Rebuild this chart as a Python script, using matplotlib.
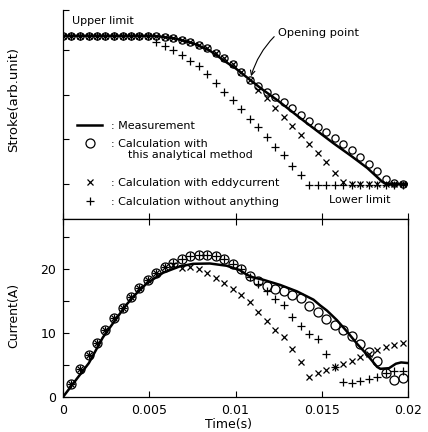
import matplotlib
matplotlib.use("Agg")
import matplotlib.pyplot as plt
from matplotlib.lines import Line2D
import numpy as np

plt.rcParams['font.family'] = ['DejaVu Sans']

# ---------------- data (time in ms) ----------------
t_calc = [0.00, 0.49, 0.99, 1.48, 1.97, 2.46, 2.96, 3.45, 3.94, 4.43,
          4.93, 5.42, 5.91, 6.40, 6.90, 7.39, 7.88, 8.37, 8.87, 9.36,
          9.85, 10.34, 10.84, 11.33, 11.82, 12.31, 12.81, 13.30, 13.79, 14.28,
          14.78, 15.27, 15.76, 16.25, 16.75, 17.24, 17.73, 18.22, 18.72, 19.21,
          19.70]

# Stroke (arb. unit)
stroke_meas_t = [0.0, 2.0, 4.0, 5.0, 5.5, 6.5, 7.55, 8.5, 9.49, 10.0, 10.84, 11.5,
                 12.5, 13.75, 14.7, 15.69, 16.7, 17.63, 18.5, 18.7, 20.0]
stroke_meas = [3.33, 3.33, 3.33, 3.33, 3.32, 3.27, 3.16, 3.0, 2.73, 2.6, 2.34, 2.14,
               1.86, 1.48, 1.2, 0.91, 0.63, 0.36, 0.05, 0.0, 0.0]
stroke_method = [3.33, 3.33, 3.33, 3.33, 3.33, 3.33, 3.33, 3.33, 3.33, 3.33,
                 3.33, 3.33, 3.31, 3.28, 3.24, 3.19, 3.13, 3.05, 2.94, 2.82,
                 2.69, 2.52, 2.33, 2.19, 2.07, 1.96, 1.83, 1.70, 1.55, 1.41,
                 1.29, 1.17, 1.03, 0.89, 0.76, 0.61, 0.44, 0.29, 0.12, 0.02,
                 0.0]
stroke_eddy = [3.33, 3.33, 3.33, 3.33, 3.33, 3.33, 3.33, 3.33, 3.33, 3.33,
               3.33, 3.33, 3.31, 3.28, 3.24, 3.19, 3.13, 3.05, 2.94, 2.82,
               2.69, 2.52, 2.33, 2.12, 1.93, 1.71, 1.51, 1.30, 1.09, 0.90,
               0.70, 0.49, 0.25, 0.05, 0.0, 0.0, 0.0, 0.0, 0.0, 0.0,
               0.0]
stroke_none = [3.33, 3.33, 3.33, 3.33, 3.33, 3.33, 3.33, 3.33, 3.33, 3.33,
               3.33, 3.18, 3.10, 3.01, 2.90, 2.76, 2.64, 2.46, 2.27, 2.07,
               1.88, 1.68, 1.46, 1.27, 1.05, 0.84, 0.64, 0.40, 0.20, -0.02,
               -0.02, -0.02, -0.02, -0.02, -0.02, -0.02, -0.02, -0.02, -0.02, -0.02,
               -0.02]

# Current (A)
cur_meas_t = [0.0, 0.86, 1.5, 2.31, 3.0, 3.67, 4.3, 4.84, 5.8, 6.77, 7.55, 8.52,
              9.49, 10.26, 10.65, 11.0, 11.62, 12.59, 13.56, 14.52, 14.91, 15.3,
              15.88, 16.47, 17.05, 17.63, 18.21, 18.4, 18.9, 19.3, 19.6, 20.0]
cur_meas = [0.0, 3.05, 5.3, 9.3, 11.9, 14.4, 16.3, 17.7, 19.4, 20.4, 20.8, 20.85,
            20.5, 19.8, 19.1, 18.7, 18.3, 17.5, 16.5, 15.2, 14.3, 13.5,
            12.0, 10.2, 8.3, 6.6, 4.7, 4.4, 4.5, 5.2, 5.4, 5.3]
cur_method = [None, 2.0, 4.3, 6.5, 8.4, 10.4, 12.4, 13.95, 15.6, 17.0,
              18.3, 19.4, 20.3, 21.0, 21.6, 22.0, 22.2, 22.2, 22.0, 21.6,
              20.85, 20.0, 18.85, 18.06, 17.4, 16.9, 16.5, 15.95, 15.4, 14.2,
              13.2, 12.2, 11.2, 10.4, 9.5, 8.2, 7.0, 5.7, 3.8, 2.7,
              3.0]
cur_eddy = [None, 2.0, 4.3, 6.5, 8.4, 10.4, 12.4, 13.95, 15.6, 17.0,
            18.3, 19.4, 20.3, 20.6, 20.2, 20.3, 20.0, 19.4, 18.6, 17.8,
            16.8, 15.9, 14.9, 13.2, 11.9, 10.5, 9.4, 7.5, 5.4, 3.2,
            3.7, 4.2, 4.7, 5.2, 5.7, 6.2, 6.75, 7.3, 7.8, 8.1,
            8.4]
cur_none = [None, 2.0, 4.3, 6.5, 8.4, 10.4, 12.4, 13.95, 15.6, 17.0,
            18.3, 19.4, 20.3, 21.0, 21.6, 22.0, 22.2, 22.2, 22.0, 21.6,
            20.85, 20.0, 18.7, 17.6, 16.5, 15.3, 14.4, 12.5, 11.1, 9.9,
            9.0, 6.7, 4.7, 2.4, 2.2, 2.5, 2.8, 3.2, 3.8, 4.0,
            4.1]

xticks = [0, 0.005, 0.01, 0.015, 0.02]
xticklabels = ['0', '0.005', '0.01', '0.015', '0.02']
cur_ticks = [0, 10, 20]
cur_ticklabels = ['0', '10', '20']
cur_minor = [5, 15, 25]

legend_labels_a = [': Measurement', ': Calculation with']
legend_cont = 'this analytical method'
legend_labels_b = [': Calculation with eddycurrent', ': Calculation without anything']


def sec(lst):
    return np.array(lst, dtype=float) / 1000.0


def arr(lst):
    return np.array([np.nan if v is None else v for v in lst], dtype=float)


W, H = 428, 432
fig = plt.figure(figsize=(W / 100, H / 100), dpi=100)
L, R = 63, 408
ax1 = fig.add_axes([L / W, 1 - 219 / H, (R - L) / W, (219 - 10) / H])
ax2 = fig.add_axes([L / W, 1 - 397 / H, (R - L) / W, (397 - 219) / H])

tc = sec(t_calc)
mw = 0.9
lw_line = 1.8
ms_o_top, ms_o_bot, ms_x, ms_p = 5.2, 6.5, 4.5, 6

# ---------------- top: stroke ----------------
ax1.plot(sec(stroke_meas_t), stroke_meas, color='black', lw=lw_line, zorder=3)
ax1.plot(tc, stroke_method, ls='none', marker='o', ms=ms_o_top, mfc='none', mec='black', mew=mw, zorder=4)
ax1.plot(tc, stroke_eddy, ls='none', marker='x', ms=ms_x, color='black', mew=mw, zorder=4)
ax1.plot(tc, stroke_none, ls='none', marker='+', ms=ms_p, color='black', mew=mw, zorder=4)

ax1.set_xlim(0, 0.02)
ax1.set_ylim(-0.79, 3.91)
ax1.spines['top'].set_visible(False)
ax1.spines['right'].set_visible(False)
ax1.set_xticks(xticks)
ax1.set_xticklabels([])
ax1.set_yticks([0, 1, 2, 3, 3.91])
ax1.set_yticklabels([])
ax1.tick_params(direction='in', length=4, width=0.8)
ax1.set_ylabel('Stroke(arb.unit)', fontsize=9.5)
ax1.yaxis.set_label_coords(-0.125, 0.57)

ax1.text(0.026, 0.947, 'Upper limit', transform=ax1.transAxes, fontsize=8,
         ha='left', va='center')
ax1.text(0.948, 0.091, 'Lower limit', transform=ax1.transAxes, fontsize=8,
         ha='right', va='center')
ax1.annotate('Opening point', xy=(tc[22], stroke_method[22]),
             xytext=(0.623, 0.89), textcoords='axes fraction', fontsize=8.2,
             ha='left', va='center',
             arrowprops=dict(arrowstyle='->', color='black', lw=0.8,
                             connectionstyle='arc3,rad=0.15', relpos=(0, 0.5),
                             shrinkA=1, shrinkB=3))

leg_kw = dict(loc='upper left', frameon=False, fontsize=8, borderaxespad=0,
              borderpad=0, handlelength=2.3, handletextpad=0.8, labelspacing=0.75)
handles_a = [Line2D([], [], color='black', lw=lw_line),
             Line2D([], [], ls='none', marker='o', ms=ms_o_bot, mfc='none', mec='black', mew=mw)]
handles_b = [Line2D([], [], ls='none', marker='x', ms=ms_x, color='black', mew=mw),
             Line2D([], [], ls='none', marker='+', ms=ms_p, color='black', mew=mw)]
leg_a = ax1.legend(handles_a, legend_labels_a, bbox_to_anchor=(0.04, 0.47), **leg_kw)
ax1.add_artist(leg_a)
ax1.legend(handles_b, legend_labels_b, bbox_to_anchor=(0.04, 0.195), **leg_kw)
ax1.text(0.188, 0.306, legend_cont, transform=ax1.transAxes, fontsize=8,
         ha='left', va='center')

# ---------------- bottom: current ----------------
ax2.plot(sec(cur_meas_t), cur_meas, color='black', lw=lw_line, zorder=3)
ax2.plot(tc, arr(cur_method), ls='none', marker='o', ms=ms_o_bot, mfc='none', mec='black', mew=mw, zorder=4)
ax2.plot(tc, arr(cur_eddy), ls='none', marker='x', ms=ms_x, color='black', mew=mw, zorder=4)
ax2.plot(tc, arr(cur_none), ls='none', marker='+', ms=ms_p, color='black', mew=mw, zorder=4)

ax2.set_xlim(0, 0.02)
ax2.set_ylim(0, 27.8)
ax2.set_xticks(xticks)
ax2.set_xticklabels(xticklabels)
ax2.set_yticks(cur_ticks)
ax2.set_yticklabels(cur_ticklabels)
ax2.set_yticks(cur_minor, minor=True)
ax2.tick_params(axis='both', which='both', direction='in', length=4, width=0.8,
                labelsize=9, pad=5)
ax2.tick_params(axis='x', top=True)
ax2.set_xlabel('Time(s)', fontsize=9)
ax2.xaxis.set_label_coords(0.48, -0.12)
ax2.set_ylabel('Current(A)', fontsize=9)
ax2.yaxis.set_label_coords(-0.125, 0.46)

for ax in (ax1, ax2):
    for s in ax.spines.values():
        s.set_linewidth(0.9)

fig.savefig('out.png', dpi=100)
